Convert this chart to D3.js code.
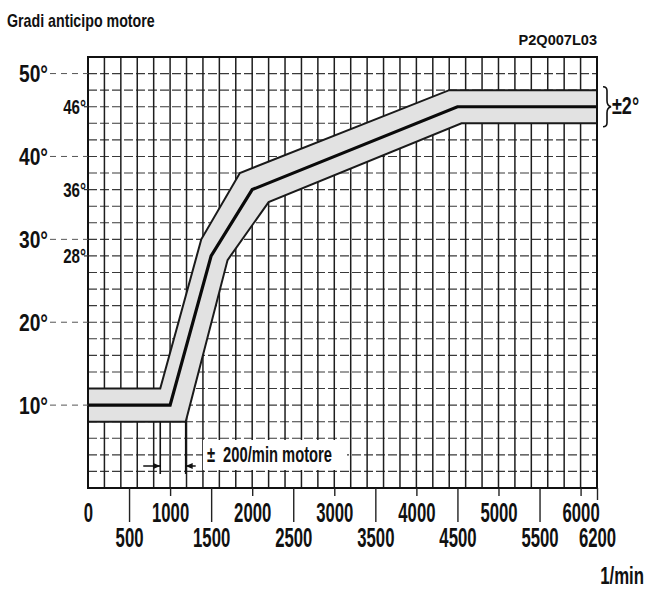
<!DOCTYPE html>
<html>
<head>
<meta charset="utf-8">
<script src="https://cdn.jsdelivr.net/npm/d3@7"></script>
<style>
  html, body { margin: 0; padding: 0; background: #fff; }
  svg text { font-family: "Liberation Sans", Arial, Helvetica, sans-serif; font-weight: bold; fill: #111; }
</style>
</head>
<body>
<svg id="chart" width="649" height="590"></svg>
<script>
// Engine speed (rpm) and ignition advance (degrees)
const rpmLabelsRow1 = [0, 1000, 2000, 3000, 4000, 5000, 6000];
const rpmLabelsRow2 = [500, 1500, 2500, 3500, 4500, 5500, 6200];
const degLabelsMajor = [10, 20, 30, 40, 50];
const degLabelsMinor = [28, 36, 46];

// Nominal advance curve
const curveRpm = [0, 1000, 1500, 2000, 4500, 6200];
const curveDeg = [10, 10, 28, 36, 46, 46];
// Tolerance band, upper edge
const upperRpm = [0, 880, 1380, 1850, 4400, 6200];
const upperDeg = [12, 12, 30, 38, 48, 48];
// Tolerance band, lower edge
const lowerRpm = [0, 1190, 1700, 2200, 4550, 6200];
const lowerDeg = [8, 8, 27.5, 34.5, 44, 44];

const rpmTolLeft = 880, rpmTolRight = 1190;

const svg = d3.select("#chart");
svg.append("rect").attr("width", 649).attr("height", 590).attr("fill", "#fff");

const x = d3.scaleLinear().domain([0, 6200]).range([88, 597]);
const y = d3.scaleLinear().domain([0, 52]).range([488, 57]);

// condensed text helper
function ctext(g, px, py, str, size, sx, anchor) {
  return g.append("text")
    .attr("transform", `translate(${px},${py}) scale(${sx},1)`)
    .attr("text-anchor", anchor || "start")
    .attr("font-size", size)
    .text(str);
}

// grid
const grid = svg.append("g");
grid.selectAll("line.h").data(d3.range(0, 53, 2)).join("line")
  .attr("x1", x(0)).attr("x2", x(6200))
  .attr("y1", d => y(d)).attr("y2", d => y(d))
  .attr("stroke", "#3a3a3a").attr("stroke-width", 1.1)
  .attr("stroke-dasharray", "9,3");
grid.selectAll("line.v").data(d3.range(0, 6201, 200)).join("line")
  .attr("x1", d => x(d)).attr("x2", d => x(d))
  .attr("y1", y(0)).attr("y2", y(52))
  .attr("stroke", "#1e1e1e").attr("stroke-width", 1.5);

// tolerance band
const line = d3.line().x(d => x(d[0])).y(d => y(d[1]));
const upperPts = upperRpm.map((r, i) => [r, upperDeg[i]]);
const lowerPts = lowerRpm.map((r, i) => [r, lowerDeg[i]]);
const centerPts = curveRpm.map((r, i) => [r, curveDeg[i]]);

svg.append("path")
  .attr("d", line(upperPts.concat(lowerPts.slice().reverse())) + "Z")
  .attr("fill", "#e2e2e2").attr("stroke", "none");
svg.append("path").attr("d", line(upperPts))
  .attr("fill", "none").attr("stroke", "#1a1a1a").attr("stroke-width", 2);
svg.append("path").attr("d", line(lowerPts))
  .attr("fill", "none").attr("stroke", "#1a1a1a").attr("stroke-width", 2);
svg.append("path").attr("d", line(centerPts))
  .attr("fill", "none").attr("stroke", "#0a0a0a").attr("stroke-width", 3.2)
  .attr("stroke-linejoin", "miter");

// frame
svg.append("rect")
  .attr("x", x(0)).attr("y", y(52))
  .attr("width", x(6200) - x(0)).attr("height", y(0) - y(52))
  .attr("fill", "none").attr("stroke", "#111").attr("stroke-width", 2);

// x axis: short ticks at thousands, long ticks at odd 500s
const fmt = d3.format("d");
const axis1 = svg.append("g").attr("transform", `translate(0,${y(0)})`)
  .call(d3.axisBottom(x).tickValues(rpmLabelsRow1).tickFormat(fmt).tickSize(8).tickPadding(7).tickSizeOuter(0));
const axis2 = svg.append("g").attr("transform", `translate(0,${y(0)})`)
  .call(d3.axisBottom(x).tickValues(rpmLabelsRow2).tickFormat(fmt).tickSize(34).tickPadding(6).tickSizeOuter(0));
[axis1, axis2].forEach(a => {
  a.select(".domain").remove();
  a.selectAll("line").attr("stroke", "#222").attr("stroke-width", 1.4);
  a.selectAll("text")
    .attr("font-size", 27)
    .attr("fill", "#111")
    .attr("font-family", "'Liberation Sans', Arial, sans-serif")
    .attr("font-weight", "bold")
    .attr("transform", "scale(0.62,1)");
});
axis1.selectAll(".tick").filter(d => d === 0).select("line").remove();
axis2.selectAll(".tick").filter(d => d === 6200).select("line").attr("y2", 12);

// y labels with dashed leaders
const ylab = svg.append("g");
degLabelsMajor.forEach(d => {
  ylab.append("line")
    .attr("x1", 50).attr("x2", x(0))
    .attr("y1", y(d)).attr("y2", y(d))
    .attr("stroke", "#555").attr("stroke-width", 1)
    .attr("stroke-dasharray", "6,5");
  ctext(ylab, 19, y(d) + 8.5, d + "°", 24, 0.8, "start");
});
degLabelsMinor.forEach(d => {
  ylab.append("line")
    .attr("x1", 84).attr("x2", x(0))
    .attr("y1", y(d)).attr("y2", y(d))
    .attr("stroke", "#333").attr("stroke-width", 1.2);
  ctext(ylab, 86, y(d) + 7.5, d + "°", 21, 0.72, "end");
});

// titles
ctext(svg, 7, 27, "Gradi anticipo motore", 18, 0.79, "start");
ctext(svg, 597, 45, "P2Q007L03", 14, 1.04, "end");
ctext(svg, 644, 584, "1/min", 24, 0.7, "end");

// ±2° brace
const yb = y(46);
svg.append("path")
  .attr("d", `M603,${yb - 20} q4,0 4,4 v10 q0,5 4,6 q-4,1 -4,6 v10 q0,4 -4,4`)
  .attr("fill", "none").attr("stroke", "#111").attr("stroke-width", 1.6);
ctext(svg, 612, yb + 7, "±2°", 24, 0.75, "start");

// ±200/min annotation
const ann = svg.append("g");
[rpmTolLeft, rpmTolRight].forEach(r => {
  ann.append("line")
    .attr("x1", x(r)).attr("x2", x(r))
    .attr("y1", y(8)).attr("y2", 474)
    .attr("stroke", "#111").attr("stroke-width", 1.6);
});
const ay = 466;
ann.append("line").attr("x1", x(rpmTolLeft) - 17).attr("x2", x(rpmTolLeft))
  .attr("y1", ay).attr("y2", ay).attr("stroke", "#111").attr("stroke-width", 1.5);
ann.append("path")
  .attr("d", `M${x(rpmTolLeft)},${ay} l-7,-3 v6 z`).attr("fill", "#111");
ann.append("line").attr("x1", x(rpmTolRight)).attr("x2", x(rpmTolRight) + 10)
  .attr("y1", ay).attr("y2", ay).attr("stroke", "#111").attr("stroke-width", 1.5);
ann.append("path")
  .attr("d", `M${x(rpmTolRight)},${ay} l7,-3 v6 z`).attr("fill", "#111");

ann.append("rect").attr("x", 203).attr("y", 440).attr("width", 144).attr("height", 30)
  .attr("fill", "#fff");
const at = ctext(ann, 207, 462, "±", 22, 0.67, "start");
at.append("tspan").attr("dx", 12).text("200/min motore");
</script>
</body>
</html>
